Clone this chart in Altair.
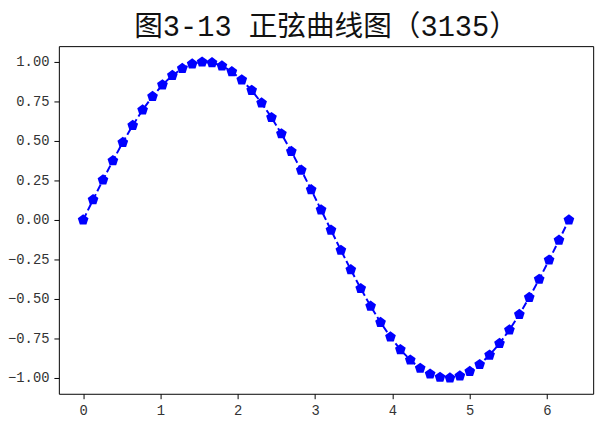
import altair as alt
import pandas as pd

# x positions (0 .. 2π, 50 samples)
x_vals = [0.0000, 0.1282, 0.2565, 0.3847, 0.5129, 0.6411, 0.7694, 0.8976, 1.0258, 1.1541,
          1.2823, 1.4105, 1.5387, 1.6670, 1.7952, 1.9234, 2.0517, 2.1799, 2.3081, 2.4363,
          2.5646, 2.6928, 2.8210, 2.9493, 3.0775, 3.2057, 3.3339, 3.4622, 3.5904, 3.7186,
          3.8468, 3.9751, 4.1033, 4.2315, 4.3598, 4.4880, 4.6162, 4.7444, 4.8727, 5.0009,
          5.1291, 5.2574, 5.3856, 5.5138, 5.6420, 5.7703, 5.8985, 6.0267, 6.1550, 6.2832]

y_vals = [0.0000, 0.1279, 0.2537, 0.3753, 0.4907, 0.5981, 0.6959, 0.7818, 0.8551, 0.9148,
          0.9587, 0.9872, 0.9995, 0.9954, 0.9749, 0.9385, 0.8866, 0.8203, 0.7403, 0.6482,
          0.5455, 0.4339, 0.3151, 0.1917, 0.0641, -0.0641, -0.1917, -0.3151, -0.4339, -0.5455,
          -0.6482, -0.7403, -0.8203, -0.8866, -0.9385, -0.9749, -0.9954, -0.9995, -0.9872, -0.9587,
          -0.9148, -0.8551, -0.7818, -0.6959, -0.5981, -0.4907, -0.3753, -0.2537, -0.1279, 0.0000]

x_ticks = [0, 1, 2, 3, 4, 5, 6]
y_ticks = [-1.0, -0.75, -0.5, -0.25, 0.0, 0.25, 0.5, 0.75, 1.0]

title_text = "图3-13 正弦曲线图（3135）"

df = pd.DataFrame({"x": x_vals, "y": y_vals})

pentagon = "M0,-1L0.951,-0.309L0.588,0.809L-0.588,0.809L-0.951,-0.309Z"

x_enc = alt.X("x:Q", scale=alt.Scale(domain=[-0.314, 6.597], nice=False, zero=False),
              axis=alt.Axis(values=x_ticks, format="d", title=None))
y_enc = alt.Y("y:Q", scale=alt.Scale(domain=[-1.1, 1.1], nice=False, zero=False),
              axis=alt.Axis(values=y_ticks, format=".2f", title=None))

base = alt.Chart(df).encode(x=x_enc, y=y_enc)

line = base.mark_line(color="#0000ff", strokeWidth=2, strokeDash=[7.5, 3.3])
pts = base.mark_point(shape=pentagon, filled=True, color="#0000ff", size=130, opacity=1)

chart = (line + pts).properties(
    width=541, height=352,
    title=alt.TitleParams(title_text, font="'Liberation Mono', 'Noto Sans CJK SC'", fontSize=29,
                          fontWeight="normal", color="#111111", anchor="middle", offset=4),
    autosize=alt.AutoSizeParams(type="none"),
    padding={"left": 51.5, "top": 36, "right": 14, "bottom": 30},
).configure_view(
    stroke="black", strokeWidth=1
).configure_axis(
    grid=False, domain=False, tickColor="black", tickSize=5, tickWidth=1,
    labelFont="Liberation Mono", labelFontSize=14, labelColor="#333333", labelPadding=5
)

chart.save("out.html", embed_options={"renderer": "svg", "actions": False})
